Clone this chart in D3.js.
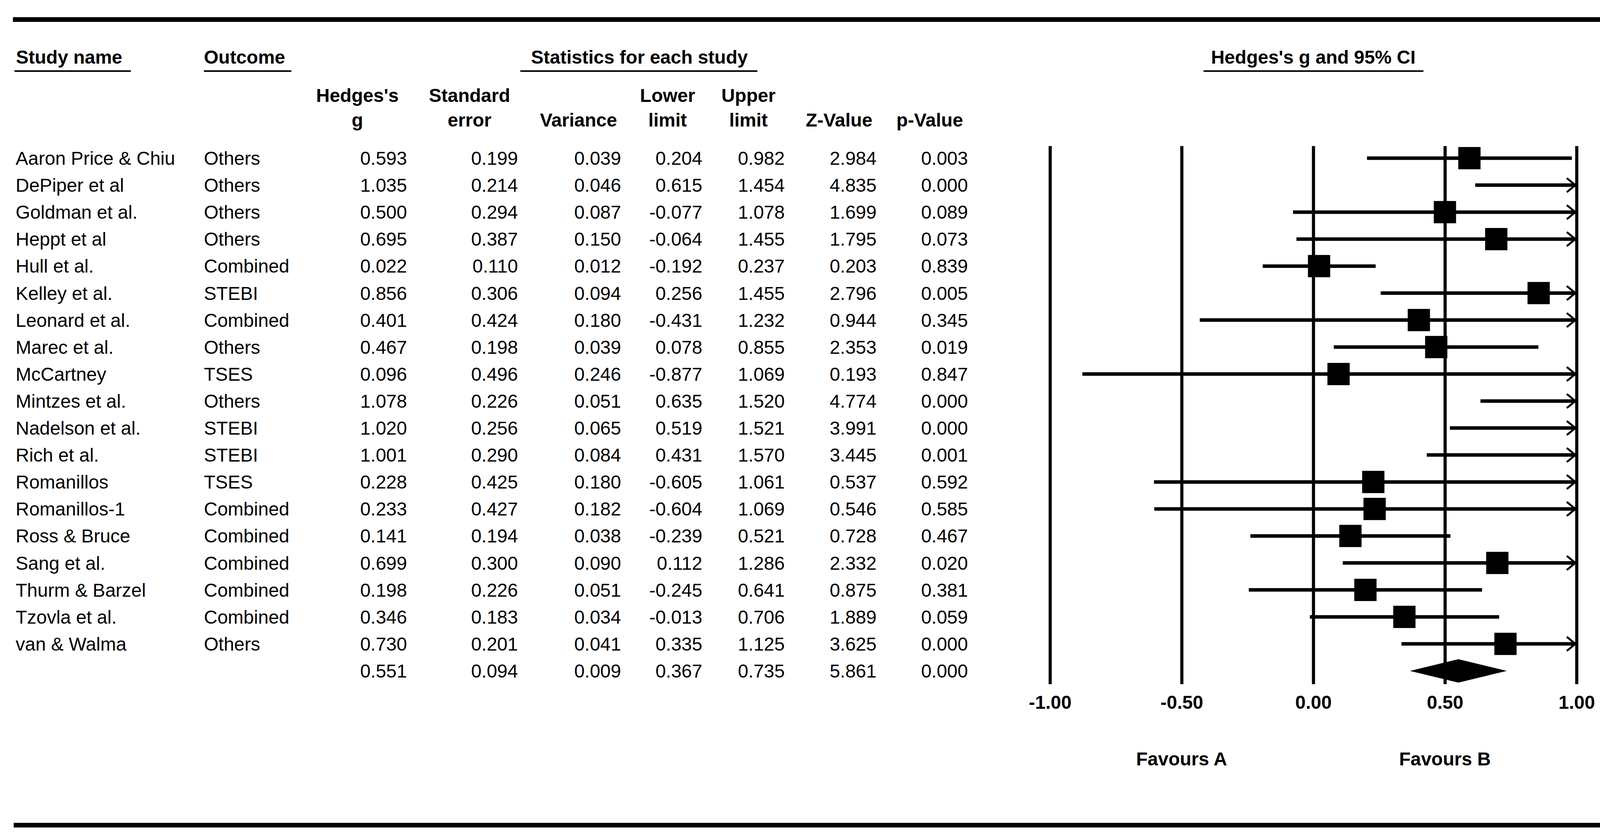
<!DOCTYPE html>
<html>
<head>
<meta charset="utf-8">
<script src="https://cdn.jsdelivr.net/npm/d3@7"></script>
<style>
  body { margin: 0; background: #fff; }
  svg { display: block; font-family: "Liberation Sans", Arial, sans-serif; }
</style>
</head>
<body>
<div id="forest"></div>
<script>
// data
var studies = ["Aaron Price & Chiu", "DePiper et al", "Goldman et al.", "Heppt et al", "Hull et al.",
  "Kelley et al.", "Leonard et al.", "Marec et al.", "McCartney", "Mintzes et al.", "Nadelson et al.",
  "Rich et al.", "Romanillos", "Romanillos-1", "Ross & Bruce", "Sang et al.", "Thurm & Barzel",
  "Tzovla et al.", "van & Walma"];
var outcomes = ["Others", "Others", "Others", "Others", "Combined", "STEBI", "Combined", "Others", "TSES",
  "Others", "STEBI", "STEBI", "TSES", "Combined", "Combined", "Combined", "Combined", "Combined", "Others"];
var hedgesG = [0.593, 1.035, 0.500, 0.695, 0.022, 0.856, 0.401, 0.467, 0.096, 1.078, 1.020, 1.001, 0.228, 0.233, 0.141, 0.699, 0.198, 0.346, 0.730];
var stdError = [0.199, 0.214, 0.294, 0.387, 0.110, 0.306, 0.424, 0.198, 0.496, 0.226, 0.256, 0.290, 0.425, 0.427, 0.194, 0.300, 0.226, 0.183, 0.201];
var variance = [0.039, 0.046, 0.087, 0.150, 0.012, 0.094, 0.180, 0.039, 0.246, 0.051, 0.065, 0.084, 0.180, 0.182, 0.038, 0.090, 0.051, 0.034, 0.041];
var lowerLimit = [0.204, 0.615, -0.077, -0.064, -0.192, 0.256, -0.431, 0.078, -0.877, 0.635, 0.519, 0.431, -0.605, -0.604, -0.239, 0.112, -0.245, -0.013, 0.335];
var upperLimit = [0.982, 1.454, 1.078, 1.455, 0.237, 1.455, 1.232, 0.855, 1.069, 1.520, 1.521, 1.570, 1.061, 1.069, 0.521, 1.286, 0.641, 0.706, 1.125];
var zValue = [2.984, 4.835, 1.699, 1.795, 0.203, 2.796, 0.944, 2.353, 0.193, 4.774, 3.991, 3.445, 0.537, 0.546, 0.728, 2.332, 0.875, 1.889, 3.625];
var pValue = [0.003, 0.000, 0.089, 0.073, 0.839, 0.005, 0.345, 0.019, 0.847, 0.000, 0.000, 0.001, 0.592, 0.585, 0.467, 0.020, 0.381, 0.059, 0.000];
// overall: g, se, var, lower, upper, z, p
var overall = [0.551, 0.094, 0.009, 0.367, 0.735, 5.861, 0.000];
var axisTicks = [-1, -0.5, 0, 0.5, 1];
var favourLabels = ["Favours A", "Favours B"];

function init() {
  var w = 4253, h = 2151;
  var loc = d3.formatLocale({decimal: ".", thousands: ",", grouping: [3], currency: ["", ""], minus: "-"});
  var f3 = loc.format(".3f"), f2 = loc.format(".2f");

  var svg = d3.select("#forest").append("svg")
    .attr("width", w).attr("height", h);

  // thick rules top and bottom
  svg.append("rect").attr("x", 33).attr("y", 44).attr("width", 4193).attr("height", 12).attr("fill", "#000");
  svg.append("rect").attr("x", 35).attr("y", 2107).attr("width", 4191).attr("height", 12).attr("fill", "#000");

  /*  #############################
      Column headers
  */
  var groupHeads = [
    {t: "Study name", x: 41, anchor: "start", x0: 37, x1: 335},
    {t: "Outcome", x: 522, anchor: "start", x0: 522, x1: 746},
    {t: "Statistics for each study", x: 1637, anchor: "middle", x0: 1332, x1: 1939},
    {t: "Hedges's g and 95% CI", x: 3362, anchor: "middle", x0: 3081, x1: 3644}
  ];
  var gh = svg.selectAll("g.ghead").data(groupHeads).enter().append("g").attr("class", "ghead");
  gh.append("text")
    .attr("x", function(d) { return d.x; })
    .attr("y", 163)
    .attr("text-anchor", function(d) { return d.anchor; })
    .attr("font-size", "48px").attr("font-weight", "bold")
    .text(function(d) { return d.t; });
  gh.append("rect")
    .attr("x", function(d) { return d.x0; })
    .attr("y", 180)
    .attr("width", function(d) { return d.x1 - d.x0; })
    .attr("height", 4)
    .attr("fill", "#000");

  var cols = [
    {h1: "Hedges's", h2: "g", c: 915, r: 1042, v: hedgesG},
    {h1: "Standard", h2: "error", c: 1202, r: 1326, v: stdError},
    {h1: "", h2: "Variance", c: 1481, r: 1590, v: variance},
    {h1: "Lower", h2: "limit", c: 1709, r: 1798, v: lowerLimit},
    {h1: "Upper", h2: "limit", c: 1916, r: 2009, v: upperLimit},
    {h1: "", h2: "Z-Value", c: 2148, r: 2244, v: zValue},
    {h1: "", h2: "p-Value", c: 2380, r: 2478, v: pValue}
  ];
  cols.forEach(function(c, ci) {
    svg.append("text").attr("x", c.c).attr("y", 261).attr("text-anchor", "middle")
      .attr("font-size", "48px").attr("font-weight", "bold").text(c.h1);
    svg.append("text").attr("x", c.c).attr("y", 324).attr("text-anchor", "middle")
      .attr("font-size", "48px").attr("font-weight", "bold").text(c.h2);
  });

  /*  #############################
      Rows of the table
  */
  var n = studies.length;
  var y = d3.scaleLinear().domain([0, n]).range([405, 405 + 69.1 * n]);

  svg.selectAll("text.name").data(studies).enter().append("text")
    .attr("class", "name")
    .attr("x", 40)
    .attr("y", function(d, i) { return y(i) + 17; })
    .attr("font-size", "48px")
    .text(function(d) { return d; });

  svg.selectAll("text.outcome").data(outcomes).enter().append("text")
    .attr("class", "outcome")
    .attr("x", 522)
    .attr("y", function(d, i) { return y(i) + 17; })
    .attr("font-size", "48px")
    .text(function(d) { return d; });

  cols.forEach(function(c, ci) {
    var vals = c.v.concat([overall[ci]]);
    svg.selectAll("text.col" + ci).data(vals).enter().append("text")
      .attr("class", "col" + ci)
      .attr("x", c.r)
      .attr("y", function(d, i) { return y(i) + 17; })
      .attr("text-anchor", "end")
      .attr("font-size", "48px")
      .text(function(d) { return f3(d); });
  });

  /*  #############################
      Forest plot
  */
  var x = d3.scaleLinear().domain([-1, 1]).range([2688, 4036]);
  var axisY = 1752;

  var axis = d3.axisBottom(x)
    .tickValues(axisTicks)
    .tickFormat(f2)
    .tickSizeInner(-(axisY - 374))
    .tickSizeOuter(0)
    .tickPadding(29);
  var ax = svg.append("g").attr("transform", "translate(0," + axisY + ")").call(axis);
  ax.select(".domain").remove();
  ax.selectAll(".tick line").attr("stroke", "#000").attr("stroke-width", 8);
  ax.selectAll(".tick text")
    .attr("fill", "#000")
    .attr("font-size", "48px")
    .attr("font-weight", "bold")
    .attr("font-family", "Liberation Sans, Arial, sans-serif");

  svg.selectAll("text.favour").data(favourLabels).enter().append("text")
    .attr("class", "favour")
    .attr("x", function(d, i) { return x(i === 0 ? -0.5 : 0.5); })
    .attr("y", 1960)
    .attr("text-anchor", "middle")
    .attr("font-size", "48px")
    .attr("font-weight", "bold")
    .text(function(d) { return d; });

  var rows = studies.map(function(s, i) {
    return {g: hedgesG[i], lo: lowerLimit[i], hi: upperLimit[i], i: i};
  });
  var lim = x.domain();

  svg.selectAll("line.ci").data(rows).enter().append("line")
    .attr("class", "ci")
    .attr("x1", function(d) { return d.lo < lim[0] ? x(lim[0]) + 3 : x(d.lo); })
    .attr("x2", function(d) { return d.hi > lim[1] ? x(lim[1]) - 3 : x(d.hi); })
    .attr("y1", function(d) { return y(d.i); })
    .attr("y2", function(d) { return y(d.i); })
    .attr("stroke", "#000")
    .attr("stroke-width", 9);

  // arrow heads where the interval runs off the scale
  svg.selectAll("path.arrow").data(rows.filter(function(d) { return d.hi > lim[1]; })).enter().append("path")
    .attr("class", "arrow")
    .attr("d", function(d) {
      var ax = x(lim[1]) - 3, ay = y(d.i);
      return "M" + (ax - 22) + "," + (ay - 18) + "L" + ax + "," + ay + "L" + (ax - 22) + "," + (ay + 18);
    })
    .attr("fill", "none")
    .attr("stroke", "#000")
    .attr("stroke-width", 5);

  var sq = 57;
  svg.selectAll("rect.pt").data(rows.filter(function(d) { return d.g >= lim[0] && d.g <= lim[1]; }))
    .enter().append("rect")
    .attr("class", "pt")
    .attr("x", function(d) { return x(d.g) - sq / 2; })
    .attr("y", function(d) { return y(d.i) - sq / 2; })
    .attr("width", sq)
    .attr("height", sq)
    .attr("fill", "#000");

  // summary diamond
  var dy = y(n), dh = 30;
  svg.append("path")
    .attr("d", "M" + x(overall[3]) + "," + dy + "L" + x(overall[0]) + "," + (dy - dh) +
      "L" + x(overall[4]) + "," + dy + "L" + x(overall[0]) + "," + (dy + dh) + "Z")
    .attr("fill", "#000");
}
window.onload = init;
</script>
</body>
</html>
